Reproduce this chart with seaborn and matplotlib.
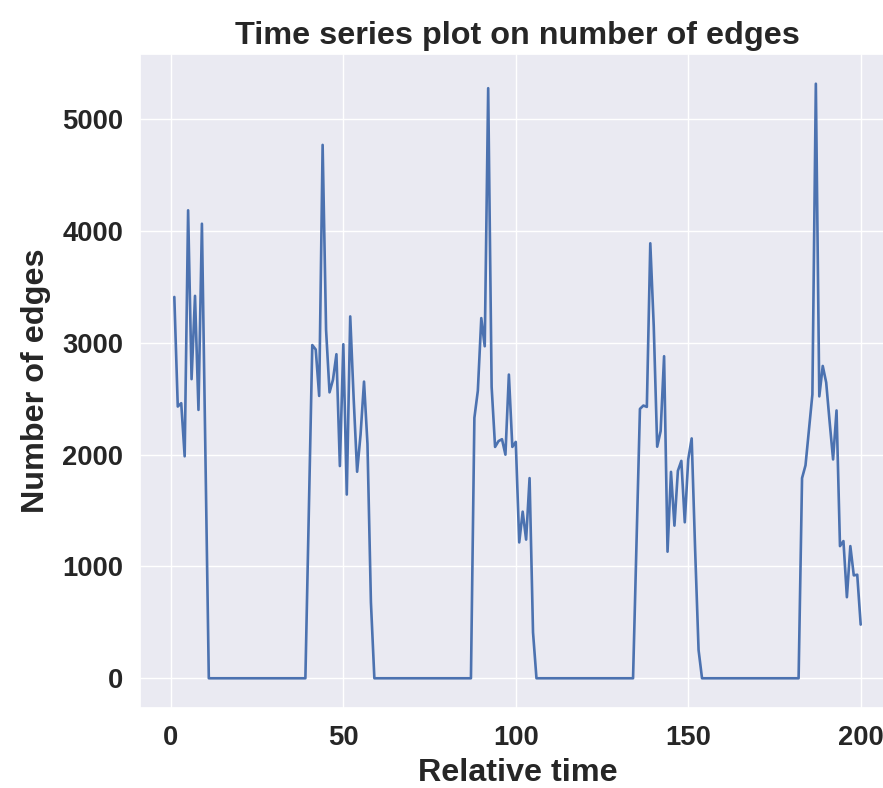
import numpy as np
import pandas as pd
import matplotlib
matplotlib.use("Agg")
import matplotlib.pyplot as plt
import seaborn as sns

# ---- data ----
burst1 = [3410, 2430, 2460, 1985, 4185, 2675, 3420, 2400, 4065, 2030]            # t = 1..10
gap1 = [0] * 29                                                                     # t = 11..39
burst2 = [1500, 2980, 2940, 2525, 4770, 3115, 2557, 2670, 2898, 1898,
          2987, 1643, 3236, 2500, 1847, 2180, 2653, 2096, 680]                      # t = 40..58
gap2 = [0] * 29                                                                     # t = 59..87
burst3 = [2329, 2571, 3221, 2969, 5277, 2606, 2069, 2121, 2138, 2000,
          2716, 2069, 2114, 1215, 1490, 1240, 1790, 410]                           # t = 88..105
gap3 = [0] * 29                                                                     # t = 106..134
burst4 = [1200, 2409, 2439, 2427, 3890, 3150, 2071, 2211, 2880, 1132,
          1846, 1365, 1855, 1944, 1395, 1958, 2145, 1150, 252]                      # t = 135..153
gap4 = [0] * 29                                                                     # t = 154..182
burst5 = [1790, 1904, 2221, 2539, 5317, 2521, 2793, 2645, 2292, 1957,
          2395, 1182, 1227, 725, 1182, 920, 926, 480]                              # t = 183..200

edges = burst1 + gap1 + burst2 + gap2 + burst3 + gap3 + burst4 + gap4 + burst5
times = list(range(1, len(edges) + 1))

title = "Time series plot on number of edges"
xlabel = "Relative time"
ylabel = "Number of edges"

df = pd.DataFrame({"Relative time": times, "Number of edges": edges})

sns.set_theme(style="darkgrid")
plt.rcParams["font.family"] = ["Liberation Sans", "DejaVu Sans"]

fig = plt.figure(figsize=(8.83, 7.88), dpi=100)
ax = fig.add_axes([140 / 883, (788 - 708) / 788, (895 - 140) / 883, (708 - 54) / 788])

sns.lineplot(data=df, x="Relative time", y="Number of edges", ax=ax,
             color="#4c72b0", linewidth=1.9)

ax.set_title(title, fontsize=23.3, fontweight="bold", pad=7)
ax.set_xlabel(xlabel, fontsize=23.3, fontweight="bold", labelpad=5)
ax.set_ylabel(ylabel, fontsize=23.3, fontweight="bold", labelpad=8)
ax.set_xticks([0, 50, 100, 150, 200])
ax.set_yticks([0, 1000, 2000, 3000, 4000, 5000])
ax.tick_params(axis="both", labelsize=19.7, length=0, pad=12)
for lab in ax.get_xticklabels() + ax.get_yticklabels():
    lab.set_fontweight("bold")

fig.savefig("out.png", dpi=100)
